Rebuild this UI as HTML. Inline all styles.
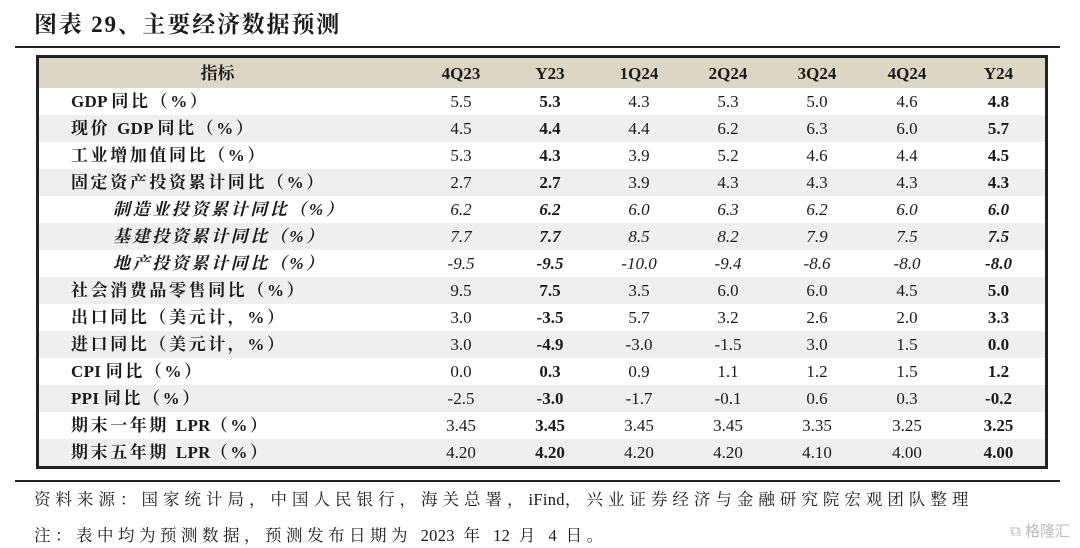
<!DOCTYPE html>
<html><head><meta charset="utf-8">
<style>
body{margin:0;width:1080px;height:548px;background:#fff;position:relative;overflow:hidden;font-family:"Liberation Serif","Noto Serif CJK SC",serif;color:#1a1a1a}
#title{position:absolute;left:34px;top:6px;font-size:23px;font-weight:bold;letter-spacing:1.8px}
.hl{position:absolute;background:#222}
#tbl{position:absolute;left:36px;top:55px;width:1006px;height:408px;border:3px solid #222;box-sizing:content-box}
table{border-collapse:collapse;width:100%;font-size:17px}
td{height:27px;padding:0;text-align:center;line-height:27px}
tr.h td{height:30px;background:#dcd6c4;font-weight:bold}
tr.g td{background:#efefef}
td.l{text-align:left;padding-left:32px;font-weight:bold;white-space:nowrap;letter-spacing:2.6px}
tr.i td{font-style:italic}
tr.i td.l{padding-left:74px}
.b{font-weight:bold}
.n{letter-spacing:0.3px}
.note{position:absolute;left:34px;font-size:16.5px;letter-spacing:4.5px;white-space:nowrap}
#wm{position:absolute;right:10px;top:520px;font-size:15px;color:#bbb;font-family:"Liberation Sans","Noto Sans CJK SC",sans-serif}
</style></head><body>
<div id="title">图表 29、主要经济数据预测</div>
<div class="hl" style="left:15px;top:46px;width:1045px;height:1.5px"></div>
<div id="tbl">
<table>
<colgroup><col style="width:377px"><col style="width:90px"><col style="width:88px"><col style="width:90px"><col style="width:88px"><col style="width:90px"><col style="width:90px"><col></colgroup>
<tr class="h"><td style="padding-right:20px">指标</td><td>4Q23</td><td>Y23</td><td>1Q24</td><td>2Q24</td><td>3Q24</td><td>4Q24</td><td>Y24</td></tr>
<tr><td class="l"><span class="n">GDP </span>同比（%）</td><td>5.5</td><td class="b">5.3</td><td>4.3</td><td>5.3</td><td>5.0</td><td>4.6</td><td class="b">4.8</td></tr>
<tr class="g"><td class="l">现价 <span class="n">GDP </span>同比（%）</td><td>4.5</td><td class="b">4.4</td><td>4.4</td><td>6.2</td><td>6.3</td><td>6.0</td><td class="b">5.7</td></tr>
<tr><td class="l">工业增加值同比（%）</td><td>5.3</td><td class="b">4.3</td><td>3.9</td><td>5.2</td><td>4.6</td><td>4.4</td><td class="b">4.5</td></tr>
<tr class="g"><td class="l">固定资产投资累计同比（%）</td><td>2.7</td><td class="b">2.7</td><td>3.9</td><td>4.3</td><td>4.3</td><td>4.3</td><td class="b">4.3</td></tr>
<tr class="i"><td class="l">制造业投资累计同比（%）</td><td>6.2</td><td class="b">6.2</td><td>6.0</td><td>6.3</td><td>6.2</td><td>6.0</td><td class="b">6.0</td></tr>
<tr class="g i"><td class="l">基建投资累计同比（%）</td><td>7.7</td><td class="b">7.7</td><td>8.5</td><td>8.2</td><td>7.9</td><td>7.5</td><td class="b">7.5</td></tr>
<tr class="i"><td class="l">地产投资累计同比（%）</td><td>-9.5</td><td class="b">-9.5</td><td>-10.0</td><td>-9.4</td><td>-8.6</td><td>-8.0</td><td class="b">-8.0</td></tr>
<tr class="g"><td class="l">社会消费品零售同比（%）</td><td>9.5</td><td class="b">7.5</td><td>3.5</td><td>6.0</td><td>6.0</td><td>4.5</td><td class="b">5.0</td></tr>
<tr><td class="l">出口同比（美元计，%）</td><td>3.0</td><td class="b">-3.5</td><td>5.7</td><td>3.2</td><td>2.6</td><td>2.0</td><td class="b">3.3</td></tr>
<tr class="g"><td class="l">进口同比（美元计，%）</td><td>3.0</td><td class="b">-4.9</td><td>-3.0</td><td>-1.5</td><td>3.0</td><td>1.5</td><td class="b">0.0</td></tr>
<tr><td class="l"><span class="n">CPI </span>同比（%）</td><td>0.0</td><td class="b">0.3</td><td>0.9</td><td>1.1</td><td>1.2</td><td>1.5</td><td class="b">1.2</td></tr>
<tr class="g"><td class="l"><span class="n">PPI </span>同比（%）</td><td>-2.5</td><td class="b">-3.0</td><td>-1.7</td><td>-0.1</td><td>0.6</td><td>0.3</td><td class="b">-0.2</td></tr>
<tr><td class="l">期末一年期 <span class="n">LPR</span>（%）</td><td>3.45</td><td class="b">3.45</td><td>3.45</td><td>3.45</td><td>3.35</td><td>3.25</td><td class="b">3.25</td></tr>
<tr class="g"><td class="l">期末五年期 <span class="n">LPR</span>（%）</td><td>4.20</td><td class="b">4.20</td><td>4.20</td><td>4.20</td><td>4.10</td><td>4.00</td><td class="b">4.00</td></tr>
</table></div>
<div class="hl" style="left:15px;top:480px;width:1045px;height:1.5px"></div>
<div class="note" style="top:486px;letter-spacing:5px">资料来源：国家统计局，中国人民银行，海关总署，<span class="n">iFind</span>，兴业证券经济与金融研究院宏观团队整理</div>
<div class="note" style="top:522px">注：表中均为预测数据，预测发布日期为 <span class="n">2023</span> 年 <span class="n">12</span> 月 <span class="n">4</span> 日。</div>
<div id="wm">⧉ 格隆汇</div>
</body></html>
